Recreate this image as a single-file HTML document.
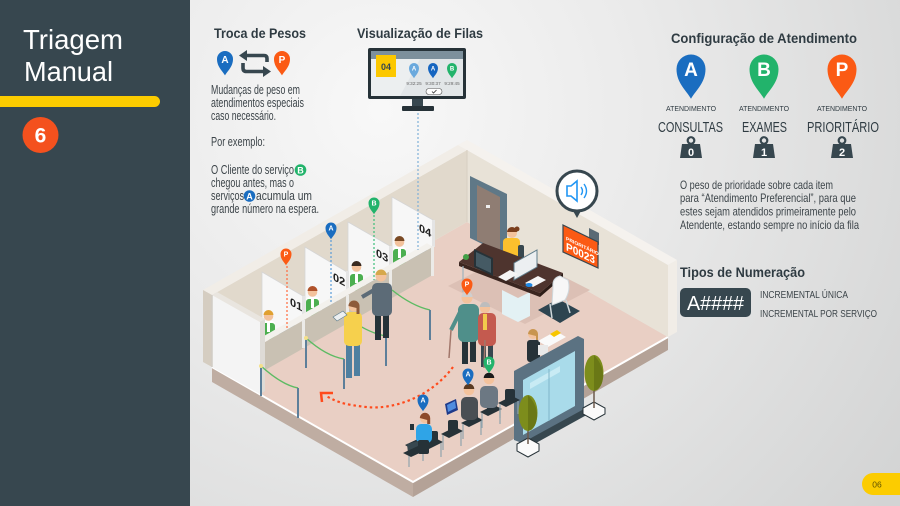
<!DOCTYPE html>
<html><head><meta charset="utf-8">
<style>
html,body{margin:0;padding:0;width:900px;height:506px;overflow:hidden;background:#e5e5e5}
svg{display:block}
text{font-family:"Liberation Sans",sans-serif}
</style></head><body>
<svg width="900" height="506" viewBox="0 0 900 506" xmlns="http://www.w3.org/2000/svg">
<defs>
<radialGradient id="bg" cx="380" cy="110" r="640" gradientUnits="userSpaceOnUse">
<stop offset="0" stop-color="#f8f8f8"/>
<stop offset="0.4" stop-color="#ebebeb"/>
<stop offset="1" stop-color="#d3d4d4"/>
</radialGradient>
<path id="pin" d="M0,2.05 C-0.35,1.45 -1,0.95 -1,0 A1,1 0 1 1 1,0 C1,0.95 0.35,1.45 0,2.05Z"/>
</defs>
<rect width="900" height="506" fill="url(#bg)"/>

<!-- Sidebar -->
<rect x="0" y="0" width="190" height="506" fill="#37474f"/>
<text x="23" y="49" font-size="28" fill="#fff" textLength="100" lengthAdjust="spacingAndGlyphs">Triagem</text>
<text x="24" y="81" font-size="28" fill="#fff" textLength="89" lengthAdjust="spacingAndGlyphs">Manual</text>
<rect x="-10" y="96" width="170" height="11" rx="5.5" fill="#fccc00"/>
<circle cx="40.5" cy="135" r="18" fill="#f4511e"/>
<text x="40.5" y="142.5" font-size="21" font-weight="bold" fill="#fff" text-anchor="middle">6</text>

<!-- Troca de Pesos -->
<text x="214" y="38" font-size="13.5" font-weight="bold" fill="#2f3b42" textLength="92" lengthAdjust="spacingAndGlyphs">Troca de Pesos</text>
<use href="#pin" transform="translate(225,59) scale(8)" fill="#1a6dc0"/>
<text x="225" y="63" font-size="10" font-weight="bold" fill="#fff" text-anchor="middle">A</text>
<path d="M245,55.5 H264 Q267,55.5 267,58.5 V62" stroke="#37474f" stroke-width="3.6" fill="none"/>
<path d="M239,55.5 L247,50 L247,61Z" fill="#37474f"/>
<path d="M243,63 V68 Q243,71.5 246.5,71.5 H264" stroke="#37474f" stroke-width="3.6" fill="none"/>
<path d="M271,71.5 L263,66 L263,77Z" fill="#37474f"/>
<use href="#pin" transform="translate(282,59) scale(8)" fill="#fb5a14"/>
<text x="282" y="63" font-size="10" font-weight="bold" fill="#fff" text-anchor="middle">P</text>

<g font-size="12.5" fill="#3c4449">
<text x="211" y="94" textLength="89" lengthAdjust="spacingAndGlyphs">Mudanças de peso em</text>
<text x="211" y="107" textLength="93" lengthAdjust="spacingAndGlyphs">atendimentos especiais</text>
<text x="211" y="120" textLength="65" lengthAdjust="spacingAndGlyphs">caso necessário.</text>
<text x="211" y="146" textLength="54" lengthAdjust="spacingAndGlyphs">Por exemplo:</text>
<text x="211" y="174" textLength="83" lengthAdjust="spacingAndGlyphs">O Cliente do serviço</text>
<text x="211" y="187" textLength="83" lengthAdjust="spacingAndGlyphs">chegou antes, mas o</text>
<text x="211" y="200" textLength="33" lengthAdjust="spacingAndGlyphs">serviços</text>
<text x="256" y="200" textLength="56" lengthAdjust="spacingAndGlyphs">acumula um</text>
<text x="211" y="213" textLength="108" lengthAdjust="spacingAndGlyphs">grande número na espera.</text>
</g>
<circle cx="300.5" cy="170" r="5.8" fill="#22b36b"/>
<text x="300.5" y="173.5" font-size="9" font-weight="bold" fill="#fff" text-anchor="middle">B</text>
<circle cx="249.5" cy="196" r="5.8" fill="#1a6dc0"/>
<text x="249.5" y="199.5" font-size="9" font-weight="bold" fill="#fff" text-anchor="middle">A</text>

<!-- Visualização de Filas -->
<text x="357" y="38" font-size="13.5" font-weight="bold" fill="#2f3b42" textLength="126" lengthAdjust="spacingAndGlyphs">Visualização de Filas</text>
<rect x="368" y="48" width="98" height="51" rx="2" fill="#263238"/>
<rect x="371" y="51" width="92" height="45" fill="#e2e6e8"/>
<rect x="371" y="51" width="92" height="8" fill="#7d909c"/>
<polygon points="371,59 420,59 400,96 371,96" fill="#eceff0"/>
<rect x="412" y="99" width="11" height="8" fill="#37474f"/>
<rect x="402" y="106" width="32" height="5" rx="1" fill="#263238"/>
<rect x="376" y="55" width="20" height="22" fill="#fcc800"/>
<text x="386" y="70" font-size="9" font-weight="bold" fill="#37474f" text-anchor="middle">04</text>
<use href="#pin" transform="translate(414,68) scale(5)" fill="#6aa9dd"/>
<use href="#pin" transform="translate(433,68) scale(5)" fill="#1565c0"/>
<use href="#pin" transform="translate(452,68) scale(5)" fill="#22b36b"/>
<g font-size="6" font-weight="bold" fill="#fff" text-anchor="middle">
<text x="414" y="70.3">A</text><text x="433" y="70.3">A</text><text x="452" y="70.3">B</text>
</g>
<g font-size="4.6" fill="#666" text-anchor="middle">
<text x="414" y="85">9:32:25</text><text x="433" y="85">9:30:37</text><text x="452" y="85">9:29:45</text>
</g>
<rect x="426" y="88.5" width="16" height="6" rx="3" fill="#fff" stroke="#555" stroke-width="0.6"/>
<path d="M432,91.5 L433.5,93 L436.5,90" stroke="#333" stroke-width="0.8" fill="none"/>

<!-- Configuração de Atendimento -->
<text x="671" y="43" font-size="13.5" font-weight="bold" fill="#2f3b42" textLength="186" lengthAdjust="spacingAndGlyphs">Configuração de Atendimento</text>
<use href="#pin" transform="translate(691,69) scale(14.5)" fill="#1a6dc0"/>
<use href="#pin" transform="translate(764,69) scale(14.5)" fill="#22b36b"/>
<use href="#pin" transform="translate(842,69) scale(14.5)" fill="#fb5a14"/>
<g font-size="19" font-weight="bold" fill="#fff" text-anchor="middle">
<text x="691" y="76">A</text><text x="764" y="76">B</text><text x="842" y="76">P</text>
</g>
<g font-size="7.5" fill="#2f3b42">
<text x="666" y="111" textLength="50" lengthAdjust="spacingAndGlyphs">ATENDIMENTO</text>
<text x="739" y="111" textLength="50" lengthAdjust="spacingAndGlyphs">ATENDIMENTO</text>
<text x="817" y="111" textLength="50" lengthAdjust="spacingAndGlyphs">ATENDIMENTO</text>
</g>
<g font-size="15" fill="#2f3b42">
<text x="658" y="132" textLength="65" lengthAdjust="spacingAndGlyphs">CONSULTAS</text>
<text x="742" y="132" textLength="45" lengthAdjust="spacingAndGlyphs">EXAMES</text>
<text x="807" y="132" textLength="72" lengthAdjust="spacingAndGlyphs">PRIORITÁRIO</text>
</g>
<g fill="#37474f">
<circle cx="691" cy="140.5" r="3.3" fill="none" stroke="#37474f" stroke-width="2.2"/>
<path d="M682,144 H700 L702,158 H680 Z"/>
<circle cx="764" cy="140.5" r="3.3" fill="none" stroke="#37474f" stroke-width="2.2"/>
<path d="M755,144 H773 L775,158 H753 Z"/>
<circle cx="842" cy="140.5" r="3.3" fill="none" stroke="#37474f" stroke-width="2.2"/>
<path d="M833,144 H851 L853,158 H831 Z"/>
</g>
<g font-size="11" font-weight="bold" fill="#fff" text-anchor="middle">
<text x="691" y="156">0</text><text x="764" y="156">1</text><text x="842" y="156">2</text>
</g>

<g font-size="11.8" fill="#3c4449">
<text x="680" y="189" textLength="153" lengthAdjust="spacingAndGlyphs">O peso de prioridade sobre cada item</text>
<text x="680" y="202" textLength="176" lengthAdjust="spacingAndGlyphs">para “Atendimento Preferencial”, para que</text>
<text x="680" y="215.5" textLength="176" lengthAdjust="spacingAndGlyphs">estes sejam atendidos primeiramente pelo</text>
<text x="680" y="229" textLength="179" lengthAdjust="spacingAndGlyphs">Atendente, estando sempre no início da fila</text>
</g>
<text x="680" y="277" font-size="13.5" font-weight="bold" fill="#2f3b42" textLength="125" lengthAdjust="spacingAndGlyphs">Tipos de Numeração</text>
<rect x="680" y="288" width="71" height="29" rx="5" fill="#37474f"/>
<text x="687" y="310" font-size="20" fill="#fff" textLength="57" lengthAdjust="spacingAndGlyphs">A####</text>
<g font-size="10.5" fill="#3c4449">
<text x="760" y="298" textLength="88" lengthAdjust="spacingAndGlyphs">INCREMENTAL ÚNICA</text>
<text x="760" y="317" textLength="117" lengthAdjust="spacingAndGlyphs">INCREMENTAL POR SERVIÇO</text>
</g>

<!-- page number -->
<rect x="862" y="473" width="60" height="22" rx="11" fill="#fccc00"/>
<text x="877" y="487.5" font-size="8.5" fill="#5f5200" text-anchor="middle">06</text>

<!-- ============ ILLUSTRATION ============ -->
<!-- slab -->
<polygon points="212,367 413,482 413,497 212,382" fill="#bfada2"/>
<polygon points="413,482 668,337 668,350 413,497" fill="#b4a297"/>
<!-- floor -->
<polygon points="212,367 467,222 668,337 413,482" fill="#e9cfc4"/>
<polyline points="212,367 413,482 668,337" stroke="#fff" stroke-width="2" fill="none"/>
<!-- walls -->
<polygon points="212,295 467,150 467,222 212,367" fill="#e1d9cc"/>
<polygon points="467,150 668,265 668,337 467,222" fill="#e8e2d7"/>
<polygon points="212,295 467,150 458,145 203,290" fill="#f1ede7"/>
<polygon points="467,150 668,265 677,260 476,145" fill="#f5f2ee"/>
<polygon points="458,145 467,140 476,145 467,150" fill="#f5f2ee"/>
<polygon points="203,290 212,295 212,367 203,362" fill="#d5cdc1"/>
<polygon points="668,265 677,260 677,332 668,337" fill="#f1ede7"/>
<line x1="467" y1="150" x2="467" y2="222" stroke="#d6cec2" stroke-width="1"/>

<!-- shadow under desk -->
<polygon points="448,286 525,324 590,290 515,252" fill="#dcc0b5"/>

<!-- door on right wall -->
<polygon points="470,176 507,194 507,256 470,238" fill="#5f7887"/>
<polygon points="477,185 500,197 500,251 477,240" fill="#8f7d73"/>
<rect x="486" y="205" width="4" height="3" fill="#eee"/>

<!-- sign -->
<polygon points="589,228 599,233 599,245 589,240" fill="#5a6a75"/>
<polygon points="563,225 598,242 598,268 563,252" fill="#fb5a14" stroke="#37474f" stroke-width="1.2"/>
<g transform="translate(566,240) skewY(25.5)" fill="#fff" font-weight="bold">
<text x="0" y="0" font-size="5">PRIORITÁRIO</text>
<text x="0" y="10" font-size="11" textLength="29" lengthAdjust="spacingAndGlyphs">P0023</text>
</g>
<!-- speaker bubble -->
<path d="M572,209 L577,218 L582,209Z" fill="#37474f"/>
<circle cx="577" cy="191" r="20" fill="#fff" stroke="#37474f" stroke-width="3"/>
<path d="M567,186 H571 L577,181 V201 L571,196 H567Z" fill="none" stroke="#2196f3" stroke-width="1.6"/>
<path d="M581,187 Q584,191 581,195 M584,184 Q589,191 584,198" fill="none" stroke="#2196f3" stroke-width="1.4"/>

<!-- receptionist -->
<circle cx="512" cy="233" r="5" fill="#f3c29c"/>
<path d="M507,232 a5,5 0 0 1 10,0 z" fill="#7a3e1d"/>
<circle cx="517" cy="229" r="2.5" fill="#7a3e1d"/>
<rect x="503" y="238" width="17" height="20" rx="4" fill="#fbc02d"/>
<rect x="518" y="245" width="6" height="14" rx="2" fill="#37474f"/>
<!-- desk -->
<polygon points="502,290 518,298 530,292 530,316 518,322 502,314" fill="#e3f1f4"/>
<polygon points="459,262 540,293 540,297 459,266" fill="#3b2620"/>
<polygon points="540,293 563,273 563,277 540,297" fill="#2c1c17"/>
<polygon points="459,262 483,243 563,273 540,293" fill="#4e342e"/>
<line x1="463" y1="266" x2="463" y2="292" stroke="#9fb3bd" stroke-width="1.2"/>
<line x1="558" y1="277" x2="558" y2="300" stroke="#9fb3bd" stroke-width="1.2"/>
<!-- desk items -->
<polygon points="474,249 493,258 493,276 474,267" fill="#263238"/>
<polygon points="476,252 491,259 491,273 476,266" fill="#455a64"/>
<polygon points="514,263 537,250 537,267 514,280" fill="#eceff1" stroke="#607d8b" stroke-width="1"/>
<polygon points="498,277 510,270 518,274 506,281" fill="#f5f5f5"/>
<polygon points="525,283 538,276 546,280 533,287" fill="#f5f5f5"/>
<circle cx="466" cy="257" r="3" fill="#43a047"/>
<ellipse cx="529" cy="285" rx="3.5" ry="2" fill="#1e88e5"/>
<!-- white chair + mat -->
<polygon points="538,310 558,299 580,311 560,323" fill="#2d4450"/>
<path d="M553,287 Q552,278 560,276 L568,280 Q571,290 565,300 L552,305Z" fill="#f7f7f7" stroke="#cfd8dc" stroke-width="1"/>
<path d="M550,304 L552,318 M566,300 L570,313" stroke="#cfd8dc" stroke-width="1.5"/>

<!-- booths: panels -->
<g fill="#f7f7f7" stroke="#d5d5d5" stroke-width="0.8">
<polygon points="262,272 303,296 303,330 262,338"/>
<polygon points="305,247 347,272 347,306 305,314"/>
<polygon points="348,222 390,246 390,281 348,289"/>
<polygon points="392,197 433,220 433,256 392,264"/>
</g>
<g fill="#1f1f1f" font-size="11" font-weight="bold">
<text transform="translate(290,305) skewY(28)">01</text>
<text transform="translate(333,280) skewY(28)">02</text>
<text transform="translate(376,256) skewY(28)">03</text>
<text transform="translate(419,231) skewY(28)">04</text>
</g>
<!-- attendants -->
<g>
<rect x="262" y="321" width="13" height="19" rx="3" fill="#fff"/>
<rect x="262" y="323" width="13" height="17" rx="3" fill="#4caf50"/>
<rect x="267" y="323" width="3" height="9" fill="#fff"/>
<circle cx="268.5" cy="316" r="4.8" fill="#f3c29c"/>
<path d="M263.5,315 a5,5 0 0 1 10,0 z" fill="#e0a030"/>
<polygon points="279,331 295,325 295,337 279,342" fill="#7ea3ba"/>
<rect x="285" y="338" width="3" height="5" fill="#7ea3ba"/>

<rect x="306" y="297" width="13" height="19" rx="3" fill="#fff"/>
<rect x="306" y="299" width="13" height="17" rx="3" fill="#4caf50"/>
<rect x="311" y="299" width="3" height="9" fill="#fff"/>
<circle cx="312.5" cy="292" r="4.8" fill="#f3c29c"/>
<path d="M307.5,291 a5,5 0 0 1 10,0 z" fill="#b0522a"/>
<polygon points="322,305 338,300 338,312 322,317" fill="#7ea3ba"/>
<rect x="329" y="312" width="3" height="5" fill="#7ea3ba"/>

<rect x="350" y="272" width="13" height="19" rx="3" fill="#fff"/>
<rect x="350" y="274" width="13" height="17" rx="3" fill="#4caf50"/>
<rect x="355" y="274" width="3" height="9" fill="#fff"/>
<circle cx="356.5" cy="267" r="4.8" fill="#f3c29c"/>
<path d="M351.5,266 a5,5 0 0 1 10,0 z" fill="#3a2a20"/>
<polygon points="366,283 380,278 380,289 366,294" fill="#7ea3ba"/>
<rect x="372" y="289" width="3" height="5" fill="#7ea3ba"/>

<rect x="393" y="247" width="13" height="19" rx="3" fill="#fff"/>
<rect x="393" y="249" width="13" height="17" rx="3" fill="#4caf50"/>
<rect x="398" y="249" width="3" height="9" fill="#fff"/>
<circle cx="399.5" cy="242" r="4.8" fill="#f3c29c"/>
<path d="M394.5,241 a5,5 0 0 1 10,0 z" fill="#7a4a25"/>
<polygon points="409,255 427,249 427,261 409,266" fill="#7ea3ba"/>
<rect x="417" y="261" width="3" height="5" fill="#7ea3ba"/>
</g>
<!-- panel front edges -->
<g fill="#e4e4e4">
<rect x="302" y="296" width="3" height="26"/>
<rect x="346" y="271" width="3" height="26"/>
<rect x="389" y="246" width="3" height="26"/>
<rect x="432" y="220" width="3" height="27"/>
</g>
<!-- counter -->
<polygon points="254,341.6 427,243.3 433,246.7 260,345" fill="#f3f1ed"/>
<polygon points="260,345 433,246.7 433,274.7 260,373" fill="#c9c1b3"/>
<g fill="#ecebe8">
<rect x="302" y="320" width="3" height="28"/>
<rect x="346" y="295" width="3" height="28"/>
<rect x="389" y="270" width="3" height="28"/>
<rect x="431" y="246" width="3" height="30"/>
</g>
<!-- end wall -->
<polygon points="212,295 260,322 265,319 217,292" fill="#e9e5df"/>
<polygon points="260,322 265,319 265,391 260,394" fill="#dedbd6"/>
<polygon points="212,295 260,322 260,394 212,367" fill="#f4f4f4"/>
<line x1="212" y1="295" x2="212" y2="367" stroke="#d0ccc5" stroke-width="1.5"/>

<!-- stanchions & ropes -->
<g fill="none" stroke="#5dbb63" stroke-width="1.4">
<path d="M261,366 Q282,385 298,388"/>
<path d="M306,338 Q326,356 344,359"/>
<path d="M348,318 Q368,333 386,336"/>
<path d="M392,290 Q412,306 430,310"/>
</g>
<g stroke="#5d7f9a" stroke-width="2">
<line x1="261" y1="366" x2="261" y2="396"/>
<line x1="298" y1="388" x2="298" y2="418"/>
<line x1="306" y1="338" x2="306" y2="368"/>
<line x1="344" y1="359" x2="344" y2="389"/>
<line x1="386" y1="336" x2="386" y2="366"/>
<line x1="430" y1="310" x2="430" y2="340"/>
</g>
<g fill="#f5e08a">
<circle cx="261" cy="366" r="2"/><circle cx="306" cy="338" r="2"/>
</g>

<!-- standing customers -->
<!-- gray man -->
<rect x="375" y="314" width="6" height="26" fill="#263238"/>
<rect x="383" y="314" width="6" height="24" fill="#263238"/>
<rect x="372" y="283" width="20" height="33" rx="5" fill="#5c6b77"/>
<path d="M374,290 L362,297" stroke="#5c6b77" stroke-width="4"/>
<circle cx="381" cy="276" r="5.5" fill="#f3c29c"/>
<path d="M375.5,275 a5.5,5.5 0 0 1 11,0 z" fill="#d6a84c"/>
<!-- yellow woman -->
<rect x="346" y="344" width="6" height="34" fill="#4f7fa0"/>
<rect x="354" y="344" width="6" height="32" fill="#4f7fa0"/>
<rect x="344" y="312" width="18" height="34" rx="5" fill="#f6d04d"/>
<polygon points="333,317 343,311 347,315 337,321" fill="#eceff1" stroke="#607d8b" stroke-width="0.6"/>
<circle cx="354" cy="306" r="5.5" fill="#f3c29c"/>
<path d="M348.5,306 a5.5,5.5 0 0 1 11,0 l0,8 l-3,0 l0,-6z" fill="#8d5a3a"/>

<!-- elderly couple -->
<rect x="462" y="340" width="6" height="24" fill="#263238"/>
<rect x="470" y="340" width="6" height="22" fill="#263238"/>
<rect x="458" y="304" width="21" height="38" rx="6" fill="#4f8f8a"/>
<path d="M460,312 L451,330" stroke="#4f8f8a" stroke-width="4"/>
<line x1="451" y1="330" x2="449" y2="358" stroke="#a1766a" stroke-width="1.5"/>
<circle cx="467" cy="298" r="5.5" fill="#f3c29c"/>
<path d="M461.5,297 a5.5,5.5 0 0 1 11,0 z" fill="#cfcfcf"/>
<rect x="481" y="344" width="5" height="23" fill="#37474f"/>
<rect x="488" y="344" width="5" height="21" fill="#37474f"/>
<rect x="478" y="313" width="18" height="33" rx="5" fill="#c45a4f"/>
<rect x="483" y="314" width="4" height="16" fill="#f2c94c"/>
<line x1="485" y1="340" x2="484" y2="368" stroke="#a1766a" stroke-width="1.5"/>
<circle cx="485" cy="308" r="5.2" fill="#f3c29c"/>
<path d="M479.8,307 a5.2,5.2 0 0 1 10.4,0 z" fill="#bdbdbd"/>

<!-- entrance receptionist + counter -->
<rect x="527" y="340" width="13" height="22" rx="3" fill="#263238"/>
<circle cx="533" cy="334" r="5" fill="#f3c29c"/>
<path d="M528,334 a5,5 0 0 1 10,0 l0,6 l-2,0 l0,-4z" fill="#c8954f"/>
<polygon points="538,341 556,331 566,337 548,347" fill="#fafafa"/>
<polygon points="550,334 557,330 561,333 554,337" fill="#f7c600"/>
<rect x="538" y="345" width="10" height="10" fill="#e9e9e9"/>

<!-- entrance door -->
<polygon points="528,438 584,407 592,412 536,443" fill="#37474f"/>
<polygon points="514,371 578,336 584,339 584,409 522,443 514,440" fill="#5b7282"/>
<polygon points="523,380 575,351 575,406 523,435" fill="#a9dbea"/>
<polygon points="530,383 560,366 560,372 530,389" fill="#c8ebf4"/>
<line x1="549" y1="369" x2="549" y2="421" stroke="#7fb6c9" stroke-width="1"/>

<!-- trees -->
<polygon points="583,408 594,402 605,408 605,414 594,420 583,414" fill="#fafafa" stroke="#263238" stroke-width="1"/>
<line x1="594" y1="385" x2="594" y2="408" stroke="#6d5a4d" stroke-width="1.5"/>
<ellipse cx="594" cy="373" rx="9.5" ry="18" fill="#7d8d1c"/>
<path d="M594,355 Q603,365 603,375 Q603,388 594,391Z" fill="#6a7816"/>

<!-- chairs and seated -->
<g>
<g fill="#263238">
<rect x="505" y="389" width="10" height="14" rx="2"/>
<polygon points="498,403 512,396 520,400 506,407"/>
<rect x="487" y="398" width="10" height="14" rx="2"/>
<polygon points="480,412 494,405 502,409 488,416"/>
<rect x="468" y="409" width="10" height="14" rx="2"/>
<polygon points="461,423 475,416 483,420 469,427"/>
<rect x="448" y="420" width="10" height="14" rx="2"/>
<polygon points="441,434 455,427 463,431 449,438"/>
<rect x="428" y="431" width="10" height="14" rx="2"/>
<polygon points="421,445 435,438 443,442 429,449"/>
</g>
<g stroke="#90a4ae" stroke-width="1.2">
<line x1="500" y1="404" x2="500" y2="418"/><line x1="518" y1="401" x2="518" y2="414"/>
<line x1="482" y1="413" x2="482" y2="428"/><line x1="500" y1="410" x2="500" y2="424"/>
<line x1="463" y1="424" x2="463" y2="439"/><line x1="481" y1="421" x2="481" y2="435"/>
<line x1="443" y1="435" x2="443" y2="450"/><line x1="461" y1="432" x2="461" y2="446"/>
<line x1="423" y1="446" x2="423" y2="461"/><line x1="441" y1="443" x2="441" y2="457"/>
<line x1="409" y1="453" x2="409" y2="467"/>
</g>
<!-- man B -->
<rect x="480" y="386" width="18" height="22" rx="5" fill="#6c7883"/>
<circle cx="489" cy="379" r="5.3" fill="#f3c29c"/>
<path d="M483.7,378 a5.3,5.3 0 0 1 10.6,0 z" fill="#1b1b1b"/>
<!-- man laptop -->
<rect x="461" y="397" width="17" height="23" rx="5" fill="#4a4f54"/>
<circle cx="469" cy="390" r="5.3" fill="#f3c29c"/>
<path d="M463.7,389 a5.3,5.3 0 0 1 10.6,0 z" fill="#5a3a22"/>
<polygon points="445,404 456,399 458,410 447,415" fill="#1e3a8a"/>
<polygon points="447,405 455,401 456,408 448,412" fill="#4f8de0"/>
<!-- woman blue -->
<polygon points="405,445 420,438 428,443 413,450" fill="#263238"/>
<rect x="416" y="424" width="16" height="19" rx="5" fill="#2fa4e7"/>
<path d="M407,444 L422,440 L420,448 L408,453Z" fill="#37474f"/>
<circle cx="425" cy="418" r="5.2" fill="#f3c29c"/>
<path d="M419.8,418 a5.2,5.2 0 0 1 10.4,0 l0,6 l-3,0 l0,-4z" fill="#8d4a2a"/>
<rect x="410" y="424" width="4" height="6" fill="#263238"/>
<rect x="418" y="440" width="11" height="14" rx="2" fill="#263238"/>
<polygon points="403,453 418,446 426,450 411,457" fill="#263238"/>
</g>

<!-- tree 1 (front) -->
<polygon points="517,444 528,438 539,444 539,451 528,457 517,451" fill="#fafafa" stroke="#263238" stroke-width="1"/>
<line x1="528" y1="426" x2="528" y2="444" stroke="#6d5a4d" stroke-width="1.5"/>
<ellipse cx="528" cy="413" rx="9.5" ry="18" fill="#7d8d1c"/>
<path d="M528,395 Q537,405 537,415 Q537,428 528,431Z" fill="#6a7816"/>

<!-- dotted arrow -->
<path d="M453,367 C430,398 392,410 366,407 S336,401 326,396" stroke="#ff4a1c" stroke-width="2.2" stroke-dasharray="2.5,3" fill="none"/>
<polyline points="333,393 321,393 322,402" stroke="#ff4a1c" stroke-width="2.5" fill="none"/>

<!-- dotted lines -->
<g stroke-width="1.2" stroke-dasharray="2,2" fill="none">
<line x1="287" y1="266" x2="287" y2="328" stroke="#ff6a3d"/>
<line x1="331" y1="240" x2="331" y2="302" stroke="#5a9bd8"/>
<line x1="374" y1="215" x2="374" y2="280" stroke="#3bbf7a"/>
<line x1="418" y1="113" x2="418" y2="250" stroke="#7fb0d8"/>
</g>
<!-- pins in illustration -->
<use href="#pin" transform="translate(286,254) scale(5.5)" fill="#fb5a14"/>
<use href="#pin" transform="translate(331,228) scale(5.5)" fill="#1a6dc0"/>
<use href="#pin" transform="translate(374,203) scale(5.5)" fill="#22b36b"/>
<use href="#pin" transform="translate(467,284) scale(5.5)" fill="#fb5a14"/>
<use href="#pin" transform="translate(423,400) scale(5.5)" fill="#1a6dc0"/>
<use href="#pin" transform="translate(468,374) scale(5.5)" fill="#1a6dc0"/>
<use href="#pin" transform="translate(489,362) scale(5.5)" fill="#22b36b"/>
<g font-size="7" font-weight="bold" fill="#fff" text-anchor="middle">
<text x="286" y="256.5">P</text><text x="331" y="230.5">A</text><text x="374" y="205.5">B</text>
<text x="467" y="286.5">P</text><text x="423" y="402.5">A</text><text x="468" y="376.5">A</text><text x="489" y="364.5">B</text>
</g>
</svg>
</body></html>
